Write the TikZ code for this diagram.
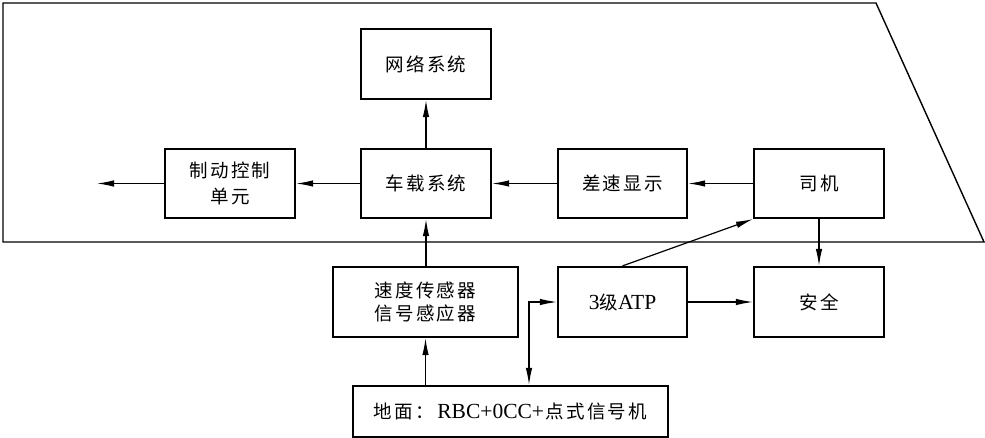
\documentclass[tikz,border=0pt]{standalone}
\usepackage{fontspec}
\setmainfont{Liberation Serif}
\newfontfamily\cjk[LetterSpace=12]{Noto Sans CJK SC}
\usetikzlibrary{arrows.meta}
\newcommand{\zh}[1]{{\cjk\fontsize{18.5}{22}\selectfont #1}}
\newcommand{\la}[1]{{\fontsize{21.5}{24}\selectfont #1}}
\tikzset{
  box/.style={draw, line width=2.2pt, minimum width=130pt, minimum height=70pt, inner sep=0pt, align=center},
  tip/.tip={Latex[length=17pt,width=6.5pt]},
  arr/.style={line width=1.2pt, -tip},
}
\begin{document}
\begin{tikzpicture}[x=1pt,y=-1pt]
\useasboundingbox (0,0) rectangle (985,438);
\draw[line width=1.4pt] (3,3) -- (876,3) -- (984,242) -- (3,242) -- cycle;

\node[box] (net) at (426,64) {\zh{网络系统}};
\node[box, minimum height=69pt] (brake) at (230,183.5) {\zh{制动控制}\\[8pt]\zh{单元}};
\node[box, minimum height=69pt] (car) at (426,183.5) {\zh{车载系统}};
\node[box, minimum height=69pt, minimum width=129pt] (diff) at (622.5,183.5) {\zh{差速显示}};
\node[box, minimum height=69pt] (driver) at (819,183.5) {\zh{司机}};
\node[box, minimum width=185pt] (sensor) at (425.5,302) {\zh{速度传感器}\\[5pt]\zh{信号感应器}};
\node[box, minimum width=129pt] (atp) at (622.5,302) {\la{3}\zh{级}\la{ATP}};
\node[box] (safe) at (819,302) {\zh{安全}};
\node[box, minimum width=315pt, minimum height=51pt] (ground) at (510.5,411.5) {\zh{地面：}\la{\,RBC+0CC+}\,\zh{点式信号机}};

\coordinate (out) at (97,183.5);
\coordinate (j) at (529,302);

\draw[arr] (car.north) -- (net.south);
\draw[arr] (car.west) -- (brake.east);
\draw[arr] (brake.west) -- (out);
\draw[arr] (diff.west) -- (car.east);
\draw[arr] (driver.west) -- (diff.east);
\draw[arr] (sensor.north -| car.south) -- (car.south);
\draw[arr] (ground.north -| sensor.north) -- (sensor.south);
\draw[line width=1.2pt, tip-tip] (j |- ground.north) -- (j) -- (atp.west);
\draw[arr] (atp.east) -- (safe.west);
\draw[arr] (atp.north) -- (driver.south west);
\draw[arr] (driver.south) -- (safe.north);
\end{tikzpicture}
\end{document}
